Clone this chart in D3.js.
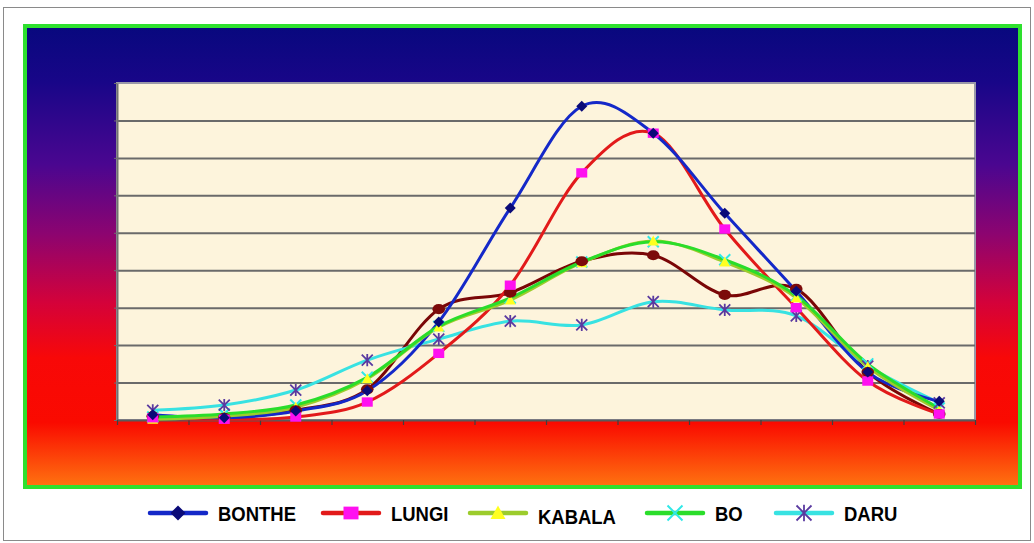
<!DOCTYPE html>
<html><head><meta charset="utf-8">
<script src="https://cdn.jsdelivr.net/npm/d3@7"></script>
<style>
html,body{margin:0;padding:0;background:#fff;}
svg{display:block;}
</style></head>
<body>
<svg id="chart" width="1034" height="543"></svg>
<script>
// ---- data (y axis unlabelled, 9 gridline steps of 50) ----
const months = ["Jan","Feb","Mar","Apr","May","Jun","Jul","Aug","Sep","Oct","Nov","Dec"];
const yTicks = [0,50,100,150,200,250,300,350,400,450];
const bonthe = [7, 3, 12, 39, 131, 283, 419, 383, 276, 172, 64, 25];
const lungi  = [3, 1, 4, 24, 89, 180, 330, 383, 255, 150, 52, 8];
const kabala = [1, 5, 17, 55, 124, 160, 210, 239, 211, 163, 71, 13];
const bo     = [4, 8, 20, 57, 125, 163, 211, 238, 214, 166, 75, 16];
const daru   = [13, 20, 40, 80, 108, 132, 127, 158, 147, 139, 72, 23];
const sixth  = [5, 3, 13, 41, 148, 170, 212, 220, 167, 175, 64, 8]; // unlabelled brown series
const legendNames = ["BONTHE","LUNGI","KABALA","BO","DARU"];

const series = [
  {name:"BONTHE", values:bonthe, line:"#1428c8", marker:"diamond", mfill:"#0a0a78", legend:true},
  {name:"LUNGI",  values:lungi,  line:"#e21a1a", marker:"square",  mfill:"#ff10f0", legend:true},
  {name:"KABALA", values:kabala, line:"#9ccc2c", marker:"triangle",mfill:"#ffff20", legend:true},
  {name:"BO",     values:bo,     line:"#2add2a", marker:"x",       mfill:"#30e8e8", legend:true},
  {name:"DARU",   values:daru,   line:"#38e2e2", marker:"star",    mfill:"#5a3aa0", legend:true},
  {name:"",       values:sixth,  line:"#7a0606", marker:"circle",  mfill:"#7c0a0a", legend:false}
];

const svg = d3.select("#chart");
const defs = svg.append("defs");

// outer thin frame
svg.append("rect").attr("x",3.5).attr("y",7.5).attr("width",1027).attr("height",533)
  .attr("fill","#fff").attr("stroke","#8a8a8a").attr("stroke-width",1);

// gradient background
const g = defs.append("linearGradient").attr("id","bg").attr("x1",0).attr("y1",0).attr("x2",0).attr("y2",1);
[[0,"#08087e"],[0.12,"#180688"],[0.3,"#4a0690"],[0.45,"#8c0470"],[0.6,"#d4023a"],[0.72,"#f80808"],[0.86,"#fa0a00"],[1,"#ff7410"]]
  .forEach(([o,c])=>g.append("stop").attr("offset",o).attr("stop-color",c));
svg.append("rect").attr("x",25).attr("y",26).attr("width",995).attr("height",461)
  .attr("fill","url(#bg)").attr("stroke","#2ee02e").attr("stroke-width",4);

// plot area
const pLeft=117, pRight=975, pTop=83, pBottom=420;
const x = d3.scaleBand().domain(months).range([pLeft,pRight]).padding(0);
const y = d3.scaleLinear().domain([0,450]).range([pBottom,pTop]);
const cx = m => x(m) + x.bandwidth()/2;

svg.append("rect").attr("x",pLeft).attr("y",pTop).attr("width",pRight-pLeft).attr("height",pBottom-pTop)
  .attr("fill","#fdf4dc").attr("stroke","#9a98a8").attr("stroke-width",2);

// gridlines
svg.append("g").attr("transform",`translate(${pLeft},0)`)
  .call(d3.axisLeft(y).tickValues(yTicks.slice(1,-1)).tickSize(-(pRight-pLeft)).tickFormat(""))
  .call(s=>s.select(".domain").remove())
  .call(s=>s.selectAll(".tick line").attr("stroke","#6a6a6a").attr("stroke-width",2));
// left axis line with small ticks
svg.append("g").attr("transform",`translate(${pLeft},0)`)
  .call(d3.axisLeft(y).tickValues(yTicks).tickSize(3).tickFormat("").tickSizeOuter(0))
  .call(s=>s.select(".domain").attr("stroke","#707070").attr("stroke-width",2))
  .call(s=>s.selectAll(".tick line").attr("stroke","#707070"));

// x axis with ticks at category boundaries
const xb = d3.scaleLinear().domain([0,months.length]).range([pLeft,pRight]);
svg.append("g").attr("transform",`translate(0,${pBottom})`)
  .call(d3.axisBottom(xb).tickValues(d3.range(0,months.length+1)).tickSize(5).tickFormat("").tickSizeOuter(0))
  .call(s=>s.select(".domain").attr("stroke","#5a5a5a").attr("stroke-width",2))
  .call(s=>s.selectAll(".tick line").attr("stroke","#404040").attr("stroke-width",1.2));

// lines
const line = d3.line().x((d,i)=>cx(months[i])).y(d=>y(d)).curve(d3.curveCardinal.tension(0));
const drawOrder = [5,4,1,0,2,3];
drawOrder.forEach(k=>{
  const s = series[k];
  svg.append("path").datum(s.values).attr("d",line)
    .attr("fill","none").attr("stroke",s.line).attr("stroke-width",3).attr("stroke-linejoin","round");
});

function marker(sel, type, fill, size){
  const r = size/2;
  if(type==="diamond") sel.append("path").attr("d",`M0,${-r}L${r},0L0,${r}L${-r},0Z`).attr("fill",fill);
  else if(type==="square") sel.append("rect").attr("x",-r).attr("y",-r*0.85).attr("width",size).attr("height",size*0.85).attr("fill",fill);
  else if(type==="triangle") sel.append("path").attr("d",`M0,${-r}L${r},${r*0.8}L${-r},${r*0.8}Z`).attr("fill",fill);
  else if(type==="circle") sel.append("ellipse").attr("rx",r*1.05).attr("ry",r*0.85).attr("fill",fill);
  else if(type==="x") sel.append("path").attr("d",`M${-r},${-r}L${r},${r}M${-r},${r}L${r},${-r}`).attr("stroke",fill).attr("stroke-width",2).attr("fill","none");
  else if(type==="star") sel.append("path").attr("d",`M${-r},${-r}L${r},${r}M${-r},${r}L${r},${-r}M0,${-r*1.1}L0,${r*1.1}`).attr("stroke",fill).attr("stroke-width",1.8).attr("fill","none");
}

// markers
const markerOrder = [3,4,2,5,1,0];
markerOrder.forEach(k=>{
  const s = series[k];
  s.values.forEach((v,i)=>{
    const gm = svg.append("g").attr("transform",`translate(${cx(months[i])},${y(v)})`);
    marker(gm, s.marker, s.mfill, s.marker==="circle"?12:11);
  });
});

// legend
const legX = [150, 323, 470, 647, 776];
const legY = 513;
series.filter(s=>s.legend).forEach((s,i)=>{
  const gl = svg.append("g").attr("transform",`translate(${legX[i]},${legY})`);
  gl.append("line").attr("x1",0).attr("x2",56).attr("y1",0).attr("y2",0)
    .attr("stroke",s.line).attr("stroke-width",4.5).attr("stroke-linecap","round");
  const gm = gl.append("g").attr("transform","translate(28,0)");
  marker(gm, s.marker, s.mfill, 15);
  gl.append("text").text(legendNames[i])
    .attr("transform",`translate(68,${i===2?11:8}) scale(0.88,1)`)
    .attr("font-family","'Liberation Sans', Arial, sans-serif").attr("font-weight","bold")
    .attr("font-size",21).attr("fill","#000");
});
</script>
</body></html>
